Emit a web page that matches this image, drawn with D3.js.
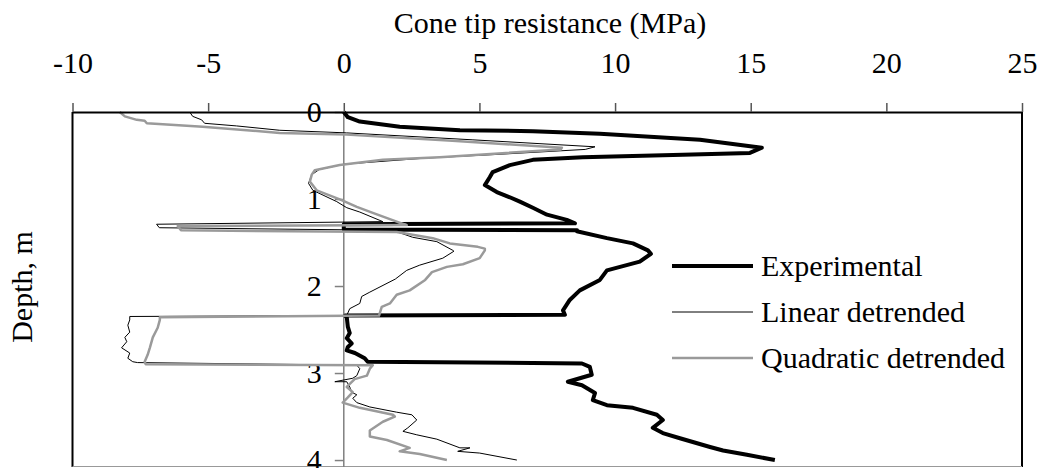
<!DOCTYPE html>
<html>
<head>
<meta charset="utf-8">
<script src="https://cdn.jsdelivr.net/npm/d3@7"></script>
<style>
  html, body { margin: 0; padding: 0; background: #fff; }
  svg { display: block; }
  text { font-family: "Liberation Serif", "Times New Roman", serif; fill: #000; }
</style>
</head>
<body>
<svg id="chart" width="1044" height="468"></svg>
<script>
// ---- data (depth in m, cone tip resistance in MPa) ----
const seriesNames = ["Experimental", "Linear detrended", "Quadratic detrended"];
const xTicks = [-10, -5, 0, 5, 10, 15, 20, 25];
const yTicks = [0, 1, 2, 3, 4];

const expDepth = [0.00,0.06,0.11,0.17,0.21,0.22,0.25,0.32,0.41,0.47,0.49,0.52,0.55,0.61,0.69,0.75,0.84,0.92,0.98,1.03,1.10,1.18,1.24,1.28,1.29,1.35,1.36,1.37,1.45,1.51,1.59,1.63,1.72,1.82,1.93,2.05,2.16,2.28,2.33,2.34,2.36,2.47,2.54,2.60,2.66,2.70,2.74,2.77,2.83,2.87,2.89,2.93,3.02,3.10,3.14,3.23,3.31,3.37,3.40,3.48,3.54,3.63,3.69,3.75,3.85,3.89,3.94,4.00];
const expValue = [0.00,0.15,0.59,2.06,4.28,6.97,9.44,13.13,15.41,14.97,12.50,8.81,6.97,6.12,5.49,5.38,5.20,5.64,6.12,6.49,6.97,7.49,8.22,8.52,0.00,0.00,8.60,8.59,9.70,10.66,11.21,11.32,10.91,9.70,9.44,8.70,8.33,8.08,8.15,0.05,0.11,0.15,0.22,0.11,0.29,0.15,0.11,0.41,0.77,0.88,8.78,9.07,9.14,8.26,8.78,9.26,9.18,9.70,10.66,11.54,11.76,11.39,11.76,12.39,13.50,13.98,14.86,15.89];

const linDepth = [0.00,0.05,0.09,0.13,0.16,0.21,0.24,0.32,0.40,0.43,0.49,0.53,0.60,0.66,0.72,0.82,0.90,1.03,1.10,1.15,1.26,1.29,1.33,1.36,1.44,1.49,1.59,1.60,1.68,1.76,1.82,1.92,2.07,2.12,2.20,2.26,2.31,2.34,2.35,2.39,2.45,2.53,2.59,2.64,2.71,2.77,2.83,2.87,2.88,2.91,2.95,3.03,3.06,3.10,3.10,3.16,3.22,3.25,3.29,3.34,3.39,3.45,3.48,3.54,3.63,3.67,3.71,3.76,3.86,3.86,3.90,3.92,4.00];
const linValue = [-5.68,-5.57,-5.24,-5.13,-3.95,-2.36,0.10,4.76,9.26,8.90,5.50,3.00,0.00,-0.90,-1.18,-1.30,-1.14,-0.26,0.11,0.59,1.44,-6.90,-6.80,1.81,2.54,3.43,4.02,4.06,3.65,2.80,2.32,1.90,0.96,0.66,0.59,0.22,0.15,0.10,-7.89,-7.89,-7.96,-7.89,-8.07,-8.00,-8.19,-7.89,-7.96,-7.78,-7.60,0.48,0.59,0.48,0.33,-0.33,0.11,0.22,0.29,0.48,0.33,0.48,0.96,1.95,2.51,2.69,2.36,2.18,2.69,3.43,4.28,4.65,4.20,5.01,6.38];

const quadDepth = [0.00,0.05,0.09,0.10,0.13,0.17,0.24,0.26,0.33,0.41,0.43,0.52,0.55,0.61,0.67,0.72,0.80,0.90,1.01,1.09,1.16,1.26,1.30,1.31,1.36,1.38,1.45,1.51,1.55,1.57,1.59,1.68,1.75,1.78,1.84,1.93,2.05,2.10,2.20,2.24,2.31,2.34,2.36,2.39,2.48,2.59,2.71,2.79,2.87,2.90,2.91,2.95,3.03,3.07,3.16,3.22,3.28,3.34,3.40,3.48,3.50,3.56,3.66,3.73,3.77,3.86,3.90,3.93,4.00];
const quadValue = [-8.26,-8.07,-7.63,-7.34,-7.26,-5.20,-2.36,0.10,4.00,8.04,8.00,3.54,1.44,-0.15,-1.07,-1.18,-1.25,-1.00,-0.10,0.48,1.07,1.95,2.32,-6.12,-6.00,1.95,3.28,3.91,4.94,5.20,5.20,5.01,4.39,3.80,3.25,3.00,2.43,1.95,1.70,1.40,1.33,1.30,-6.78,-6.78,-6.86,-7.04,-7.15,-7.23,-7.34,-7.30,1.07,0.96,0.85,0.40,0.11,0.33,0.15,-0.04,0.59,1.81,1.88,1.44,0.96,0.96,1.59,2.43,2.06,2.80,3.80];

// ---- layout ----
const svg = d3.select("#chart");
const pLeft = 72.5, pRight = 1022, pTop = 112, pBottom = 467;
const x = d3.scaleLinear().domain([-10, 25]).range([pLeft, pRight]);
const y = d3.scaleLinear().domain([0, 4.08]).range([pTop, pBottom]);
const FS = 30;

const styles = [
  { stroke: "#000", width: 4 },
  { stroke: "#000", width: 1 },
  { stroke: "#9a9a9a", width: 2.5 }
];

// frame
svg.append("line").attr("x1", pLeft).attr("x2", pLeft).attr("y1", pTop).attr("y2", pBottom)
  .attr("stroke", "#000").attr("stroke-width", 2);
svg.append("line").attr("x1", pRight).attr("x2", pRight).attr("y1", pTop).attr("y2", pBottom)
  .attr("stroke", "#000").attr("stroke-width", 2);
svg.append("line").attr("x1", pLeft).attr("x2", pRight).attr("y1", pBottom - 0.5).attr("y2", pBottom - 0.5)
  .attr("stroke", "#999").attr("stroke-width", 1);

// y axis at x = 0 (gray)
const yAxis = d3.axisLeft(y).tickValues(yTicks).tickSize(9).tickFormat(d3.format("d"));
const gy = svg.append("g").attr("transform", `translate(${x(0)},0)`).call(yAxis);
gy.select(".domain").attr("stroke", "#808080").attr("stroke-width", 1.5)
  .attr("d", `M0,${pTop}V${pBottom}`);
gy.selectAll(".tick line").attr("stroke", "#808080").attr("stroke-width", 1.5);
gy.selectAll(".tick text").attr("font-size", FS).attr("x", -22).attr("dy", "0.33em")
  .style("font-family", "'Liberation Serif', serif").attr("fill", "#000");

// series
const series = [
  expDepth.map((d, i) => [expValue[i], d]),
  linDepth.map((d, i) => [linValue[i], d]),
  quadDepth.map((d, i) => [quadValue[i], d])
];
const line = d3.line().x(d => x(d[0])).y(d => y(d[1]));
series.forEach((s, i) => {
  svg.append("path").datum(s).attr("d", line).attr("fill", "none")
    .attr("stroke", styles[i].stroke).attr("stroke-width", styles[i].width)
    .attr("stroke-linejoin", "round");
});

// top x axis
const xAxis = d3.axisTop(x).tickValues(xTicks).tickSize(9).tickSizeOuter(0).tickFormat(d3.format("d"));
const gx = svg.append("g").attr("transform", `translate(0,${pTop})`).call(xAxis);
gx.select(".domain").attr("stroke", "#000").attr("stroke-width", 2);
gx.selectAll(".tick line").attr("stroke", "#555").attr("stroke-width", 1.5);
gx.selectAll(".tick text").attr("font-size", FS).attr("y", -39).attr("dy", 0)
  .style("font-family", "'Liberation Serif', serif").attr("fill", "#000")
  .text(d => d < 0 ? "-" + Math.abs(d) : d);

// titles
svg.append("text").attr("x", 550).attr("y", 33).attr("text-anchor", "middle")
  .attr("font-size", FS).text("Cone tip resistance (MPa)");
svg.append("text").attr("transform", "translate(32,287) rotate(-90)").attr("text-anchor", "middle")
  .attr("font-size", FS).text("Depth, m");

// legend
const legY = [266, 312, 358];
seriesNames.forEach((n, i) => {
  svg.append("line").attr("x1", 672).attr("x2", 753).attr("y1", legY[i]).attr("y2", legY[i])
    .attr("stroke", styles[i].stroke).attr("stroke-width", styles[i].width);
  svg.append("text").attr("x", 761).attr("y", legY[i] + 10).attr("font-size", FS).text(n);
});
</script>
</body>
</html>
